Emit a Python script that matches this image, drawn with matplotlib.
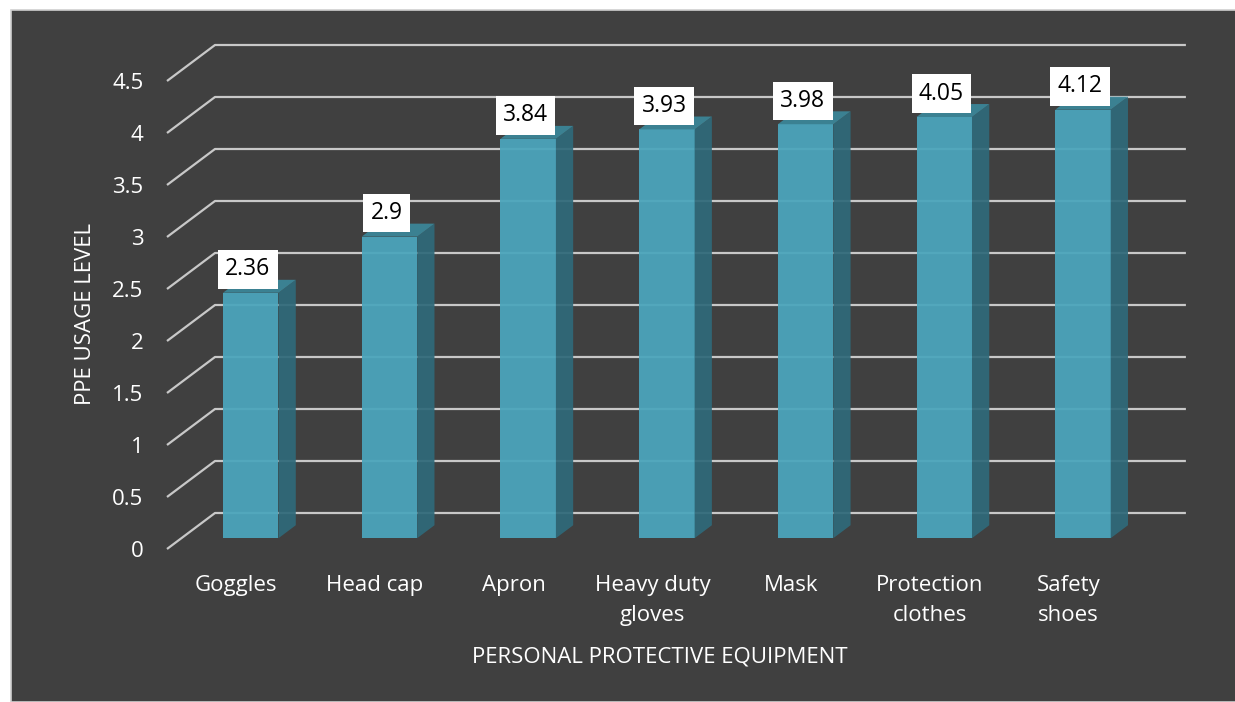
import matplotlib.pyplot as plt
from matplotlib.patches import Polygon, Rectangle

categories = ["Goggles", "Head cap", "Apron", "Heavy duty\ngloves", "Mask",
              "Protection\nclothes", "Safety\nshoes"]
usage = [2.36, 2.9, 3.84, 3.93, 3.98, 4.05, 4.12]
y_ticks = [0, 0.5, 1, 1.5, 2, 2.5, 3, 3.5, 4, 4.5]

plt.rcParams['font.family'] = ['Open Sans', 'DejaVu Sans']

W, H = 1235, 702
fig = plt.figure(figsize=(W / 100, H / 100), dpi=100, facecolor="white")
ax = fig.add_axes([0, 0, 1, 1])
ax.set_axis_off()

# pixel geometry of the fake 3d frame
x0_px, y0_px = 167, 549      # front-left corner of the floor
slot_px, unit_px = 138.7, 104
ax.set_xlim(-x0_px / slot_px, (W - x0_px) / slot_px)
ax.set_ylim((y0_px - H) / unit_px, y0_px / unit_px)

# depth vector of the back wall in data units
dx, dy = 48 / slot_px, 36 / unit_px
f0, f1 = 0.30, 0.66          # bar front/back faces as a fraction of depth
half_w = 0.2
n = len(categories)

# dark panel
fig.patches.append(Rectangle((11 / W, 0), 1, 1 - 10 / H, transform=fig.transFigure,
                             facecolor="#404040", edgecolor="#d0d0d0", lw=1.2,
                             zorder=-10))

grid_c = "#c8c8c8"
for v in y_ticks:
    ax.plot([0, dx, n + dx], [v, v + dy, v + dy], color=grid_c, lw=1.6,
            solid_capstyle="butt", zorder=1)
    ax.text(-0.17, v - 0.02, f"{v:g}", color="white", fontsize=16,
            ha="right", va="center")

front_c, side_c, top_c = "#4ba5bc", "#2f6a7a", "#3b8597"
for i, v in enumerate(usage):
    xl = i + 0.5 - half_w + f0 * dx
    xr = i + 0.5 + half_w + f0 * dx
    yb = f0 * dy
    ddx, ddy = (f1 - f0) * dx, (f1 - f0) * dy
    ax.add_patch(Polygon([(xl, yb), (xr, yb), (xr, v + yb), (xl, v + yb)],
                         closed=True, fc=front_c, ec="none", alpha=0.94, zorder=3))
    ax.add_patch(Polygon([(xr, yb), (xr + ddx, yb + ddy), (xr + ddx, v + yb + ddy),
                          (xr, v + yb)], closed=True, fc=side_c, ec="none",
                         alpha=0.93, zorder=3))
    ax.add_patch(Polygon([(xl, v + yb), (xr, v + yb), (xr + ddx, v + yb + ddy),
                          (xl + ddx, v + yb + ddy)], closed=True, fc=top_c,
                         ec="none", alpha=0.95, zorder=3))
    ax.text(i + 0.5 + f0 * dx - 0.02, v + yb + 0.11, f"{v:g}", color="black",
            fontsize=16.5, ha="center", va="bottom", zorder=5,
            bbox=dict(boxstyle="square,pad=0.32", fc="white", ec="none"))
    ax.text(i + 0.5, -0.25, categories[i], color="white", fontsize=16,
            ha="center", va="top", linespacing=1.55)

ax.text(n / 2 + 0.05, -1.04, "PERSONAL PROTECTIVE EQUIPMENT", color="white",
        fontsize=16, ha="center", va="center")
ax.text(-0.59, 2.26, "PPE USAGE LEVEL", color="white", fontsize=16,
        ha="center", va="center", rotation=90)

fig.savefig("out.png", dpi=100, facecolor="white")
